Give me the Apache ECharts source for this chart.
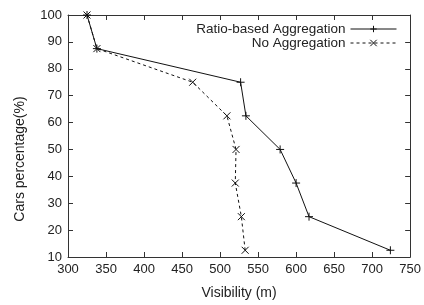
<!DOCTYPE html>
<html>
<head>
<meta charset="utf-8">
<script src="https://cdn.jsdelivr.net/npm/echarts@6/dist/echarts.min.js"></script>
<style>
  html, body { margin: 0; padding: 0; background: #fff; }
  #chart { width: 424px; height: 305px; }
</style>
</head>
<body>
<div id="chart"></div>
<script>
// percent of cars (y) against visibility (x)
const percentages = [100, 87.5, 75, 62.5, 50, 37.5, 25, 12.5]
const ratioVisibility = [325, 338, 527, 534, 579, 600, 617, 724]
const noAggVisibility = [325, 338, 464, 509, 521, 520, 528, 533]
const xTicks = [300, 350, 400, 450, 500, 550, 600, 650, 700, 750]
const yTicks = [10, 20, 30, 40, 50, 60, 70, 80, 90, 100]

const plusSymbol = 'path://M5,0L5,10M0,5L10,5'
const crossSymbol = 'path://M0,0L10,10M10,0L0,10'
const font = 'Liberation Sans'
const textColor = '#222'

function pairs(xs) {
  return xs.map((x, i) => [x, percentages[i]])
}

const xAxisBase = {
  type: 'value',
  min: xTicks[0],
  max: xTicks[xTicks.length - 1],
  interval: 50,
  axisLine: { show: true, onZero: false, lineStyle: { color: '#333', width: 1 } },
  axisTick: { show: true, inside: true, length: 5, lineStyle: { color: '#333' } },
  splitLine: { show: false }
}
const yAxisBase = {
  type: 'value',
  min: yTicks[0],
  max: yTicks[yTicks.length - 1],
  interval: 10,
  axisLine: { show: true, onZero: false, lineStyle: { color: '#333', width: 1 } },
  axisTick: { show: true, inside: true, length: 5, lineStyle: { color: '#333' } },
  splitLine: { show: false }
}

const chart = echarts.init(document.getElementById('chart'))
chart.setOption({
  animation: false,
  backgroundColor: '#fff',
  textStyle: { fontFamily: font },
  grid: { left: 68, right: 11, top: 15, bottom: 46 },
  legend: {
    orient: 'vertical',
    right: 27,
    top: 22,
    padding: 0,
    align: 'right',
    itemWidth: 46,
    itemHeight: 8,
    itemGap: 0,
    lineStyle: { width: 1 },
    itemStyle: { borderWidth: 1 },
    textStyle: { fontFamily: font, fontSize: 13.5, lineHeight: 14, color: textColor },
    data: ['Ratio-based Aggregation', 'No Aggregation']
  },
  xAxis: [
    Object.assign({}, xAxisBase, {
      position: 'bottom',
      name: 'Visibility (m)',
      nameLocation: 'middle',
      nameGap: 29,
      nameTextStyle: { fontFamily: font, fontSize: 14, color: textColor },
      axisLabel: { margin: 6, fontFamily: font, fontSize: 13, color: textColor }
    }),
    Object.assign({}, xAxisBase, { position: 'top', axisLabel: { show: false } })
  ],
  yAxis: [
    Object.assign({}, yAxisBase, {
      position: 'left',
      name: 'Cars percentage(%)',
      nameLocation: 'middle',
      nameGap: 41,
      nameTextStyle: { fontFamily: font, fontSize: 14, color: textColor, padding: [0, 46, 0, 0] },
      axisLabel: { margin: 6, fontFamily: font, fontSize: 13, color: textColor }
    }),
    Object.assign({}, yAxisBase, { position: 'right', axisLabel: { show: false } })
  ],
  series: [
    {
      name: 'Ratio-based Aggregation',
      type: 'line',
      data: pairs(ratioVisibility),
      symbol: plusSymbol,
      symbolSize: 8,
      showAllSymbol: true,
      lineStyle: { color: '#111', width: 1 },
      itemStyle: { color: '#111', borderColor: '#111', borderWidth: 1 }
    },
    {
      name: 'No Aggregation',
      type: 'line',
      data: pairs(noAggVisibility),
      symbol: crossSymbol,
      symbolSize: 7,
      showAllSymbol: true,
      lineStyle: { color: '#111', width: 1, type: [3, 3] },
      itemStyle: { color: '#111', borderColor: '#111', borderWidth: 1 }
    }
  ]
})
</script>
</body>
</html>
